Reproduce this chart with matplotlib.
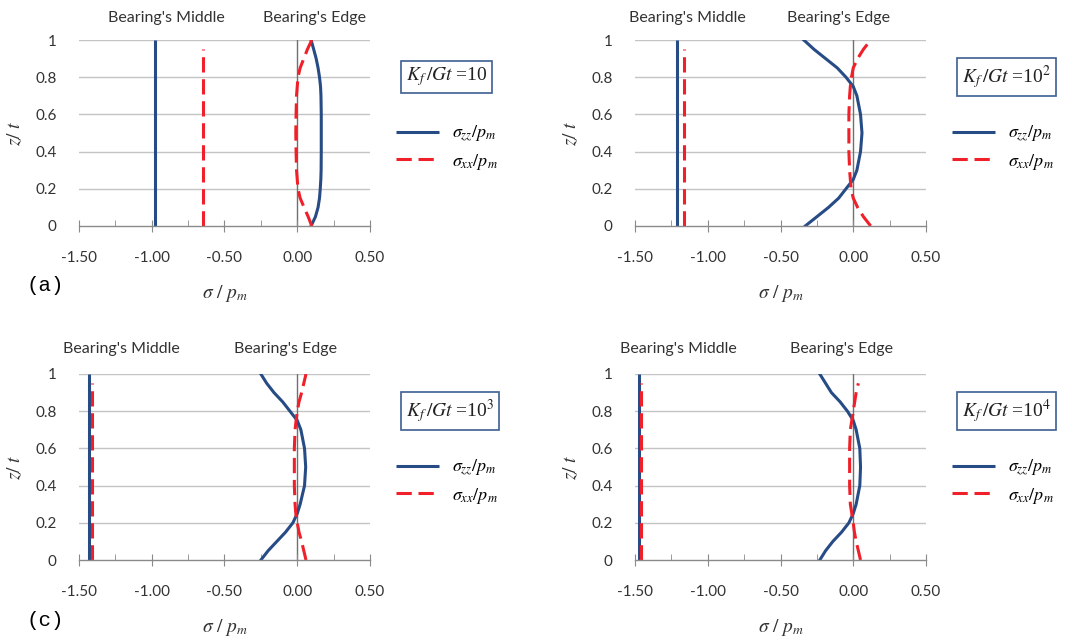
import matplotlib
matplotlib.use('Agg')
import matplotlib.pyplot as plt
from matplotlib.ticker import MultipleLocator

plt.rcParams['mathtext.fontset'] = 'stix'

# data
z_mid = [0.0, 1.0]
z_mid_xx = [0.0, 0.95]
z_edge = [0.0, 0.05, 0.1, 0.15, 0.2, 0.25, 0.3, 0.4, 0.5, 0.6, 0.7, 0.75, 0.8, 0.85, 0.9, 0.95, 1.0]

# panel (a) Kf/Gt = 10
a_mid_zz = [-0.98, -0.98]
a_mid_xx = [-0.65, -0.65]
a_edge_zz = [0.095, 0.125, 0.143, 0.153, 0.158, 0.162, 0.164, 0.165, 0.165, 0.165, 0.163, 0.16, 0.153, 0.143, 0.13, 0.113, 0.095]
a_edge_xx = [0.10, 0.075, 0.047, 0.02, 0.005, 0.0, -0.005, -0.008, -0.01, -0.008, -0.005, 0.0, 0.005, 0.02, 0.045, 0.07, 0.10]

# panel (b) Kf/Gt = 10^2
b_mid_zz = [-1.21, -1.21]
b_mid_xx = [-1.16, -1.16]
b_edge_zz = [-0.33, -0.25, -0.17, -0.1, -0.05, 0.0, 0.025, 0.05, 0.06, 0.05, 0.025, 0.0, -0.05, -0.11, -0.19, -0.27, -0.34]
b_edge_xx = [0.12, 0.07, 0.03, 0.0, -0.015, -0.02, -0.025, -0.03, -0.03, -0.03, -0.025, -0.02, -0.012, 0.0, 0.03, 0.07, 0.12]

# panel (c) Kf/Gt = 10^3
c_mid_zz = [-1.43, -1.43]
c_mid_xx = [-1.41, -1.41]
c_edge_zz = [-0.25, -0.2, -0.14, -0.08, -0.03, 0.0, 0.02, 0.05, 0.058, 0.05, 0.025, 0.0, -0.05, -0.1, -0.16, -0.21, -0.25]
c_edge_xx = [0.06, 0.045, 0.03, 0.012, 0.0, -0.01, -0.015, -0.02, -0.02, -0.02, -0.015, -0.008, 0.0, 0.012, 0.03, 0.045, 0.06]

# panel (d) Kf/Gt = 10^4
d_mid_zz = [-1.47, -1.47]
d_mid_xx = [-1.46, -1.46]
d_edge_zz = [-0.23, -0.19, -0.14, -0.08, -0.03, 0.0, 0.02, 0.045, 0.05, 0.045, 0.02, 0.0, -0.04, -0.09, -0.15, -0.19, -0.23]
d_edge_xx = [0.05, 0.035, 0.02, 0.008, 0.0, -0.01, -0.02, -0.025, -0.025, -0.025, -0.02, -0.01, 0.0, 0.01, 0.02, 0.035]
z_edge_d_xx = [0.0, 0.05, 0.1, 0.15, 0.2, 0.25, 0.3, 0.4, 0.5, 0.6, 0.7, 0.75, 0.8, 0.85, 0.9, 0.95]

box_labels = [r'$K_f\,/Gt$ =10', r'$K_f\,/Gt$ =10$^2$', r'$K_f\,/Gt$ =10$^3$', r'$K_f\,/Gt$ =10$^4$']
panel_tags = ['(a)', '', '(c)', '']

BLUE = '#274b85'
RED = '#f0202a'
W, H = 1077.0, 642.0

fig = plt.figure(figsize=(10.77, 6.42), dpi=100)


def px(x, y):
    return x / W, 1 - y / H


def draw_panel(left, top, zz_mid, xx_mid, zz_edge, xx_edge, z_xx, box, tag, mid_x, edge_x, head_y):
    x0, y1 = px(left, top)
    ax = fig.add_axes([x0, y1 - 186 / H, 291 / W, 186 / H])
    ax.set_xlim(-1.5, 0.5)
    ax.set_ylim(0, 1)
    for s in ['left', 'right', 'top']:
        ax.spines[s].set_visible(False)
    ax.spines['bottom'].set_color('#8a8a8a')
    ax.spines['bottom'].set_linewidth(1.0)
    ax.set_yticks([0, 0.2, 0.4, 0.6, 0.8, 1.0])
    ax.set_yticklabels(['0', '0.2', '0.4', '0.6', '0.8', '1'])
    ax.xaxis.set_minor_locator(MultipleLocator(0.25))
    ax.set_xticks([-1.5, -1.0, -0.5, 0.0, 0.5])
    ax.set_xticklabels(['-1.50', '-1.00', '-0.50', '0.00', '0.50'])
    ax.tick_params(axis='x', which='major', direction='inout', length=8, color='#8a8a8a', pad=14,
                   labelsize=11, labelcolor='#333333')
    ax.tick_params(axis='x', which='minor', direction='in', length=4, color='#8a8a8a')
    ax.tick_params(axis='y', length=0, pad=16, labelsize=11, labelcolor='#333333')
    for lab in ax.get_xticklabels() + ax.get_yticklabels():
        lab.set_family('Lato')
    for g in [0.2, 0.4, 0.6, 0.8, 1.0]:
        ax.axhline(g, color='#c4c4c4', lw=1.0, zorder=0)
    ax.axvline(0, color='#707070', lw=1.0, zorder=1)

    ax.plot(zz_mid, z_mid, color=BLUE, lw=2.2, solid_capstyle='butt', label=r'$\sigma_{zz}/p_m$')
    ax.plot(xx_mid, z_mid_xx, color=RED, lw=2.2, dashes=(5, 2.2), label=r'$\sigma_{xx}/p_m$')
    ax.plot(zz_edge, z_edge, color=BLUE, lw=2.2)
    ax.plot(xx_edge, z_xx, color=RED, lw=2.2, dashes=(5, 2.2))

    ax.set_xlabel(r'$\sigma\ /\ p_m$', fontsize=14, labelpad=13, color='#333333')
    ax.set_ylabel(r'$z/\ t$', fontsize=14, labelpad=8, color='#333333')

    ax.text(mid_x, head_y, "Bearing's Middle", transform=ax.transAxes, ha='center', va='center',
            fontsize=11.5, family='Lato', color='#333333')
    ax.text(edge_x, head_y, "Bearing's Edge", transform=ax.transAxes, ha='center', va='center',
            fontsize=11.5, family='Lato', color='#333333')

    lx, ly = px(left + 317, top + 108)
    ax.legend(loc='center left', bbox_to_anchor=(lx, ly), bbox_transform=fig.transFigure,
              frameon=False, fontsize=13, handlelength=2.4, handletextpad=0.7,
              labelspacing=0.4, borderpad=0, borderaxespad=0)

    bx, by = px(left + 327, top + 37)
    fig.text(bx, by, box, fontsize=14, family='Liberation Serif', ha='left', va='center',
             color='#222222',
             bbox=dict(boxstyle='square,pad=0.25', fc='white', ec='#3d5f91', lw=1.2))
    if tag:
        tx, ty = px(left - 34, top + 246)
        fig.text(tx, ty, tag, fontsize=15, family='Liberation Mono', ha='center', va='center')
    return ax


draw_panel(79, 40, a_mid_zz, a_mid_xx, a_edge_zz, a_edge_xx, z_edge, box_labels[0], panel_tags[0],
           0.30, 0.81, 1.118)
draw_panel(635, 40, b_mid_zz, b_mid_xx, b_edge_zz, b_edge_xx, z_edge, box_labels[1], panel_tags[1],
           0.18, 0.70, 1.118)
draw_panel(79, 374, c_mid_zz, c_mid_xx, c_edge_zz, c_edge_xx, z_edge, box_labels[2], panel_tags[2],
           0.146, 0.71, 1.134)
draw_panel(635, 374, d_mid_zz, d_mid_xx, d_edge_zz, d_edge_xx, z_edge_d_xx, box_labels[3], panel_tags[3],
           0.148, 0.71, 1.134)

plt.savefig('out.png', dpi=100)
